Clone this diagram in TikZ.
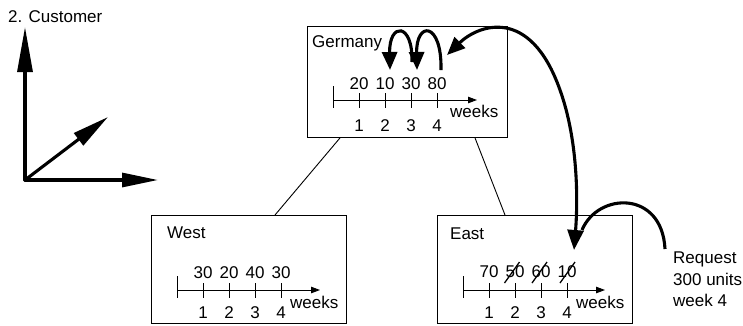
\documentclass[tikz,border=0pt]{standalone}
\usepackage{fontspec}
\setmainfont{Liberation Sans}
\usetikzlibrary{arrows.meta,calc}
\begin{document}
\begin{tikzpicture}[x=1pt,y=-1pt,
  font=\fontsize{17}{20}\selectfont,
  thinline/.style={line width=0.9pt},
  heavy/.style={line width=3.1pt},
  box/.style={draw,line width=0.9pt,inner sep=0pt,anchor=north west},
  lbl/.style={inner sep=0pt,anchor=base},
  lblw/.style={inner sep=0pt,anchor=base west},
  axhead/.style={-{Triangle[length=9pt,width=6.5pt]}},
  bighead/.tip={Triangle[length=18pt,width=15pt]}
]
\useasboundingbox (0,0) rectangle (743,325);

% left axes
\node[lblw] (title) at (8,22) {2. Customer};
\coordinate (o) at (25,180);
\coordinate (oy) at (25,27);
\coordinate (ox) at (158,180);
\coordinate (od) at (108,117);
\draw[heavy,line cap=round,-{Triangle[length=45pt,width=15pt]}] (o) -- (oy);
\draw[heavy,line cap=round,-{Triangle[length=36pt,width=14pt]}] (o) -- (ox);
\draw[heavy,line cap=round,-{Triangle[length=37pt,width=15pt]}] (o) -- (od);

% boxes
\node[box,minimum width=200pt,minimum height=111pt] (G) at (307,26) {};
\node[box,minimum width=195pt,minimum height=108pt] (W) at (151,215) {};
\node[box,minimum width=195pt,minimum height=108pt] (E) at (437,215) {};

\draw[thinline] ([xshift=33pt]G.south west) -- ([xshift=124pt]W.north west);
\draw[thinline] ([xshift=168pt]G.south west) -- ([xshift=68pt]E.north west);

\node[lblw] (gname) at (312,47) {Germany};
\node[lblw] (wname) at (167,238) {West};
\node[lblw] (ename) at (450,239) {East};

% Germany timeline
\draw[thinline] (333,86) -- (333,108);
\draw[thinline,axhead] (333,100) -- (477,100);
\foreach \x/\n/\k in {359/20/1,385/10/2,411/30/3,437/80/4}{
  \draw[thinline] (\x,93) -- (\x,108);
  \node[lbl] (gn\k) at (\x,89) {\n};
  \node[lbl] (gw\k) at (\x,131) {\k};
}
\node[lblw] (gweeks) at (450,117) {weeks};

% West timeline
\draw[thinline] (177,276) -- (177,298);
\draw[thinline,axhead] (177,290) -- (320,290);
\foreach \x/\n/\k in {203/30/1,229/20/2,255/40/3,281/30/4}{
  \draw[thinline] (\x,283) -- (\x,298);
  \node[lbl] (wn\k) at (\x,278) {\n};
  \node[lbl] (ww\k) at (\x,318) {\k};
}
\node[lblw] (wweeks) at (290,308) {weeks};

% East timeline
\draw[thinline] (463,276) -- (463,298);
\draw[thinline,axhead] (463,290) -- (605,290);
\foreach \x/\n/\k in {489/70/1,515/50/2,541/60/3,567/10/4}{
  \draw[thinline] (\x,283) -- (\x,298);
  \node[lbl] (en\k) at (\x,277) {\n};
  \node[lbl] (ew\k) at (\x,318) {\k};
}
\node[lblw] (eweeks) at (576,308) {weeks};
\foreach \x in {512,539.5,567.5}{
  \draw[line width=1.3pt] (\x-7.5,283) -- (\x+7.5,262);
}

% loops in Germany
\coordinate (l2s) at (441,70);
\coordinate (l2e) at (417,70);
\coordinate (l1s) at (412,62);
\coordinate (l1e) at (390,70);
\draw[heavy,-bighead] (l2s) .. controls (442,21) and (416,21) .. (l2e);
\draw[heavy,-bighead] (l1s) .. controls (413,22) and (389,22) .. (l1e);

% big arc Germany <-> East
\coordinate (bs) at (447,55);
\coordinate (bm) at (560,90);
\coordinate (be) at (574,250);
\draw[heavy,bighead-{Triangle[length=20pt,width=16pt]}] (bs) .. controls (478,25) and (530,5) .. (bm) .. controls (578,140) and (578,200) .. (be);

% request
\coordinate (rs) at (665,249);
\coordinate (re) at (582,230);
\draw[heavy] (rs) .. controls (662,190) and (598,192) .. (re);
\node[lblw] (req1) at (673,263) {Request};
\node[lblw] (req2) at (673,285) {300 units};
\node[lblw] (req3) at (673,306) {week 4};
\end{tikzpicture}
\end{document}
